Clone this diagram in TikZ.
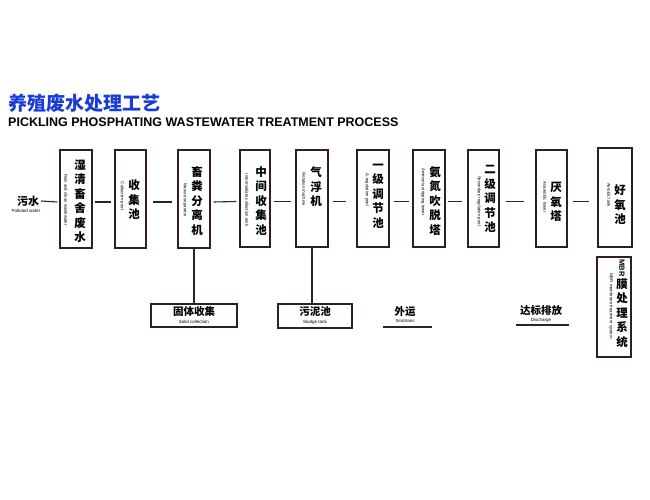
\documentclass[tikz,border=0pt]{standalone}
\usepackage{fontspec}
\setmainfont{Liberation Sans}
\newfontfamily\cjk{Noto Sans CJK SC}
\definecolor{boxc}{RGB}{50,30,30}
\definecolor{titleblue}{RGB}{25,60,215}
\begin{document}
\begin{tikzpicture}[x=1pt,y=-1pt,
  box/.style={draw=boxc, line width=1.3pt, inner sep=0pt, fill=white},
  zh/.style={font=\cjk\bfseries\fontsize{11.5}{14.5}\selectfont, align=center, inner sep=0pt},
  en/.style={font=\fontsize{4.3}{5}\selectfont, rotate=-90, inner sep=0pt},
  lab/.style={font=\cjk\bfseries\fontsize{11}{12}\selectfont, inner sep=0pt},
  sen/.style={font=\fontsize{4.5}{5}\selectfont, inner sep=0pt},
  conn/.style={line width=1.1pt, black!85}]
\useasboundingbox[fill=white] (0,0) rectangle (650,500);
% title
\node[anchor=base west, inner sep=0pt, text=titleblue, font=\cjk\bfseries\fontsize{19}{20}\selectfont] (title) at (8,111) {养殖废水处理工艺};
\node[anchor=base west, inner sep=0pt, font=\bfseries\fontsize{12.5}{14}\selectfont] (subtitle) at (8,127) {PICKLING PHOSPHATING WASTEWATER TREATMENT PROCESS};
% input
\node[lab] (w) at (28,201) {污水};
\node[sen] (wen) at (26,211) {Polluted water};
% boxes
\node[box, minimum width=32pt, minimum height=98pt] (b1) at (76,199) {};
\node[box, minimum width=31pt, minimum height=98pt] (b2) at (130.5,199) {};
\node[box, minimum width=32pt, minimum height=98pt] (b3) at (194,199) {};
\node[box, minimum width=30pt, minimum height=97pt] (b4) at (255,198.5) {};
\node[box, minimum width=32pt, minimum height=97pt] (b5) at (312,198.5) {};
\node[box, minimum width=32pt, minimum height=97pt] (b6) at (373,198.5) {};
\node[box, minimum width=32pt, minimum height=97pt] (b7) at (429,198.5) {};
\node[box, minimum width=31pt, minimum height=97pt] (b8) at (483.5,198.5) {};
\node[box, minimum width=31pt, minimum height=97pt] (b9) at (551.5,198.5) {};
\node[box, minimum width=34pt, minimum height=99pt] (b10) at (615,197.5) {};
\node[box, minimum width=34pt, minimum height=100pt] (mbr) at (614,307) {};
% texts in boxes
\node[en] (e1) at (66,200) {Rain and clean wastewater};
\node[zh] (z1) at (80,201) {湿\\清\\畜\\舍\\废\\水};
\node[en] (e2) at (122,196) {Collection pool};
\node[zh] (z2) at (134,200) {收\\集\\池};
\node[en] (e3) at (185,200) {Manure separator};
\node[zh] (z3) at (197,201) {畜\\粪\\分\\离\\机};
\node[en] (e4) at (247,200) {Intermediate collection tank};
\node[zh] (z4) at (261,201) {中\\间\\收\\集\\池};
\node[en] (e5) at (304,189) {Flotation machine};
\node[zh] (z5) at (316,187) {气\\浮\\机};
\node[en] (e6) at (367,190) {A-regulation pool};
\node[zh] (z6) at (378,196) {一\\级\\调\\节\\池};
\node[en] (e7) at (423,192) {Ammonia stripping tower};
\node[zh] (z7) at (435,201) {氨\\氮\\吹\\脱\\塔};
\node[en] (e8) at (479,201) {Secondary regulation pool};
\node[zh] (z8) at (490,199) {二\\级\\调\\节\\池};
\node[en] (e9) at (545,197) {Anaerobic tower};
\node[zh] (z9) at (556,202) {厌\\氧\\塔};
\node[en] (e10) at (609,195) {Aerobic tank};
\node[zh] (z10) at (620,205) {好\\氧\\池};
\node[en] (emb) at (611,306) {MBR membrane treatment system};
\node[rotate=-90, inner sep=0pt, font=\bfseries\fontsize{7.5}{8}\selectfont] (zmb0) at (622,268) {MBR};
\node[zh] (zmb) at (622,313) {膜\\处\\理\\系\\统};
% connectors
\draw[conn] ([xshift=2pt]w.east) -- ([shift={(-2,3)}]b1.west);
\draw[conn] ([shift={(2,3)}]b1.east) -- ([shift={(-3,3)}]b2.west);
\draw[conn] ([shift={(6,3)}]b2.east) -- ([shift={(-5,3)}]b3.west);
\draw[conn] ([shift={(3,3)}]b3.east) -- ([shift={(-3,3)}]b4.west);
\draw[conn] ([shift={(3,3)}]b4.east) -- ([shift={(-4,3)}]b5.west);
\draw[conn] ([shift={(4,3)}]b5.east) -- ([shift={(-10,3)}]b6.west);
\draw[conn] ([shift={(4,3)}]b6.east) -- ([shift={(-3,3)}]b7.west);
\draw[conn] ([shift={(2,3)}]b7.east) -- ([shift={(-5,3)}]b8.west);
\draw[conn] ([shift={(6,3)}]b8.east) -- ([shift={(-11,3)}]b9.west);
\draw[conn] ([shift={(5,3)}]b9.east) -- ([shift={(-8,4)}]b10.west);
% bottom boxes
\node[box, minimum width=86pt, minimum height=23pt] (s1) at (194,315.5) {};
\node[lab, font=\cjk\bfseries\fontsize{10.5}{12}\selectfont] (s1z) at (194,312) {固体收集};
\node[sen] (s1e) at (194,322) {Solid collection};
\node[box, minimum width=74pt, minimum height=24pt] (s2) at (315,316) {};
\node[lab, font=\cjk\bfseries\fontsize{10.5}{12}\selectfont] (s2z) at (315,312) {污泥池};
\node[sen] (s2e) at (315,322) {Sludge tank};
\draw[conn] (b3.south) -- (b3.south |- s1.north);
\draw[conn] (b5.south) -- (b5.south |- s2.north);
% outputs
\node[lab, font=\cjk\bfseries\fontsize{10.5}{12}\selectfont] (t1) at (405,312) {外运};
\node[sen] (t1e) at (405,321) {Sinotrans};
\coordinate (u1a) at (383,327);
\coordinate (u1b) at (432,327);
\draw[conn] (u1a) -- (u1b);
\node[lab, font=\cjk\bfseries\fontsize{10.5}{12}\selectfont] (t2) at (541,311) {达标排放};
\node[sen] (t2e) at (541,320) {Discharge};
\coordinate (u2a) at (516,325);
\coordinate (u2b) at (569,325);
\draw[conn] (u2a) -- (u2b);
\end{tikzpicture}
\end{document}
